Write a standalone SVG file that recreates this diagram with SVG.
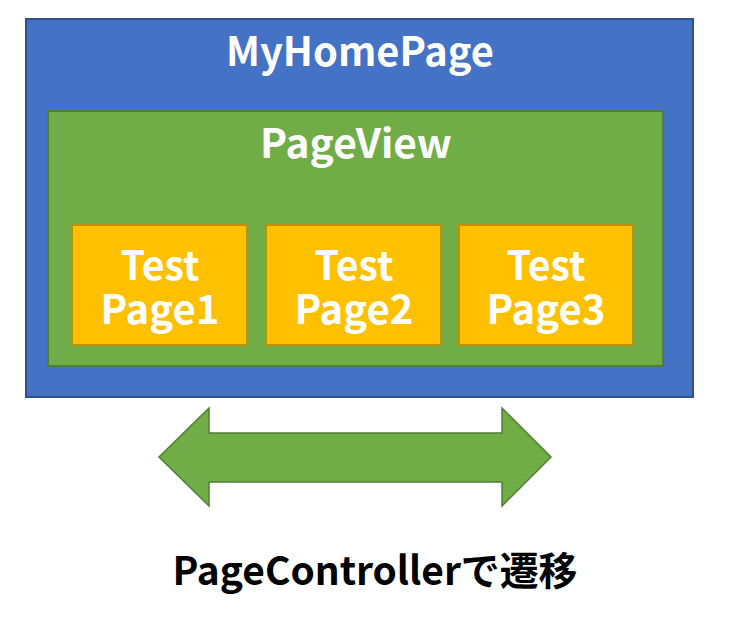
<svg xmlns="http://www.w3.org/2000/svg" width="738" height="621" viewBox="0 0 738 621">
<style>
.lbl{font-family:"Noto Sans CJK JP","Open Sans",sans-serif;font-weight:bold;fill:#fff;text-anchor:middle}
.page{fill:#FFC000;stroke:#BF9000;stroke-width:2}
.big{font-size:40px}
.mid{font-size:40px}
</style>
<rect width="738" height="621" fill="#fff"/>
<g id="MyHomePage">
<rect x="26" y="19" width="667" height="378" fill="#4472C4" stroke="#2F528F" stroke-width="2"/>
<text class="lbl big" x="360" y="66" textLength="268" lengthAdjust="spacingAndGlyphs">MyHomePage</text>
</g>
<g id="PageView">
<rect x="48" y="111" width="615" height="255" fill="#70AD47" stroke="#507E32" stroke-width="2"/>
<text class="lbl big" x="356" y="158" textLength="192" lengthAdjust="spacingAndGlyphs">PageView</text>
</g>
<g id="TestPage1">
<rect class="page" x="72" y="225" width="175" height="120"/>
<text class="lbl mid" x="160" y="280" textLength="79" lengthAdjust="spacingAndGlyphs">Test</text>
<text class="lbl mid" x="160" y="324" textLength="119" lengthAdjust="spacingAndGlyphs">Page1</text>
</g>
<g id="TestPage2">
<rect class="page" x="266" y="225" width="175" height="120"/>
<text class="lbl mid" x="354" y="280" textLength="79" lengthAdjust="spacingAndGlyphs">Test</text>
<text class="lbl mid" x="354" y="324" textLength="119" lengthAdjust="spacingAndGlyphs">Page2</text>
</g>
<g id="TestPage3">
<rect class="page" x="459" y="225" width="174" height="120"/>
<text class="lbl mid" x="546" y="280" textLength="79" lengthAdjust="spacingAndGlyphs">Test</text>
<text class="lbl mid" x="546" y="324" textLength="119" lengthAdjust="spacingAndGlyphs">Page3</text>
</g>
<g id="connectors">
<polygon points="159,457 209,408 209,433 502,433 502,408 551,457 502,506 502,482 209,482 209,506" fill="#70AD47" stroke="#507E32" stroke-width="1.5"/>
</g>
<text x="375" y="585" font-family="'Noto Sans CJK JP',sans-serif" font-weight="bold" font-size="39" fill="#000" text-anchor="middle" textLength="405" lengthAdjust="spacingAndGlyphs">PageControllerで遷移</text>
</svg>
